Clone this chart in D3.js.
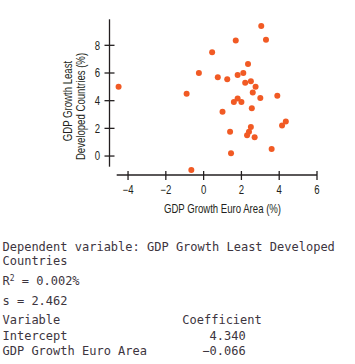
<!DOCTYPE html>
<html><head><meta charset="utf-8">
<script src="https://cdn.jsdelivr.net/npm/d3@7"></script>
<style>
body{margin:0;background:#fff;}
svg{display:block;}
</style></head>
<body>
<svg id="chart" width="355" height="364"></svg>
<script>
const euroGrowth = [-4.5,-0.9,-0.65,-0.25,0.45,0.75,1.25,1.0,1.4,1.45,1.7,1.8,1.6,1.8,2.0,2.1,2.2,2.35,2.5,2.75,2.6,3.0,2.55,2.5,2.4,2.3,2.7,3.05,3.3,3.9,3.6,4.15,4.35];
const ldcGrowth  = [5.0,4.5,-1.0,6.0,7.5,5.7,5.55,3.2,1.75,0.2,8.35,5.85,3.9,4.15,3.9,6.0,5.3,6.65,5.4,5.0,4.6,4.2,3.45,2.1,1.75,1.5,1.35,9.4,8.4,4.35,0.5,2.2,2.5];
const xTicks = [-4,-2,0,2,4,6];
const yTicks = [0,2,4,6,8];
const xTitle = "GDP Growth Euro Area (%)";
const yTitleLines = ["GDP Growth Least","Developed Countries (%)"];
const outputLines = [
  "Dependent variable: GDP Growth Least Developed",
  "Countries"
];
const rSquared = "0.002%";
const sValue = "2.462";
const tableHeader = ["Variable","Coefficient"];
const tableRows = [["Intercept","4.340"],["GDP Growth Euro Area","\u22120.066"]];

const svg = d3.select("#chart");
const axisColor = "#231f20";
const dotColor = "#f15a24";
const sans = "'Liberation Sans',Arial,sans-serif";
const mono = "'DejaVu Sans Mono','Liberation Mono',monospace";
const NARROW = 0.8;
const FS = 12;

const x = d3.scaleLinear().domain([-4.6, 6.0]).range([116.7, 317.0]);
const y = d3.scaleLinear().domain([-1.37, 9.88]).range([175, 19.3]);
const axisX = 109.5, axisY = 175;

// y axis
const gy = svg.append("g");
gy.append("line").attr("x1",axisX).attr("x2",axisX).attr("y1",y(9.88)).attr("y2",y(-0.77))
  .attr("stroke",axisColor).attr("stroke-width",1.3);
gy.selectAll("line.t").data(yTicks).join("line").attr("class","t")
  .attr("x1",axisX-5).attr("x2",axisX+5).attr("y1",d=>y(d)).attr("y2",d=>y(d))
  .attr("stroke",axisColor).attr("stroke-width",1.3);
gy.selectAll("text").data(yTicks).join("text")
  .attr("transform",d=>`translate(100,${y(d)}) scale(${NARROW},1)`)
  .attr("dy","0.36em").attr("text-anchor","end")
  .attr("font-family",sans).attr("font-size",FS).attr("fill",axisColor).text(d=>d);

// x axis
const gx = svg.append("g");
gx.append("line").attr("x1",x(-4.6)).attr("x2",x(6)).attr("y1",axisY).attr("y2",axisY)
  .attr("stroke",axisColor).attr("stroke-width",1.3);
gx.selectAll("line.t").data(xTicks).join("line").attr("class","t")
  .attr("x1",d=>x(d)).attr("x2",d=>x(d)).attr("y1",axisY-4).attr("y2",axisY+5)
  .attr("stroke",axisColor).attr("stroke-width",1.3);
gx.selectAll("text").data(xTicks).join("text")
  .attr("transform",d=>`translate(${x(d)},194.3) scale(${NARROW},1)`)
  .attr("text-anchor","middle")
  .attr("font-family",sans).attr("font-size",FS).attr("fill",axisColor)
  .text(d=>d<0?"\u2212"+Math.abs(d):d);

// titles
svg.append("text").attr("transform",`translate(222.5,212.5) scale(${NARROW},1)`).attr("text-anchor","middle")
  .attr("font-family",sans).attr("font-size",FS).attr("fill",axisColor).text(xTitle);
const yt = [[72,101],[85,106.5]];
yTitleLines.forEach((t,i)=>{
  svg.append("text").attr("transform",`translate(${yt[i][0]},${yt[i][1]}) rotate(-90) scale(${NARROW},1)`)
    .attr("text-anchor","middle").attr("font-family",sans).attr("font-size",FS)
    .attr("fill",axisColor).text(t);
});

// dots
svg.append("g").selectAll("circle").data(euroGrowth.map((v,i)=>[v,ldcGrowth[i]])).join("circle")
  .attr("cx",d=>x(d[0])).attr("cy",d=>y(d[1])).attr("r",3).attr("fill",dotColor);

// regression output
const txtColor = "#3d3540";
const tg = svg.append("g").attr("font-family",mono).attr("font-size",12).attr("fill",txtColor);
outputLines.forEach((t,i)=>{
  tg.append("text").attr("x",2.5).attr("y",[250.7,265.3][i]).attr("xml:space","preserve").text(t);
});
const r2 = tg.append("text").attr("x",2.5).attr("y",285);
r2.append("tspan").text("R");
r2.append("tspan").attr("dy",-4).attr("font-size",8).text("2");
r2.append("tspan").attr("dy",4).text(" = " + rSquared);
tg.append("text").attr("x",2.5).attr("y",305).text("s = " + sValue);
tg.append("text").attr("x",2.5).attr("y",324).text(tableHeader[0]);
tg.append("text").attr("x",182.3).attr("y",324).text(tableHeader[1]);
tableRows.forEach((r,i)=>{
  const yy = [340,355][i];
  tg.append("text").attr("x",2.5).attr("y",yy).text(r[0]);
  tg.append("text").attr("x",245.7).attr("y",yy).attr("text-anchor","end").text(r[1]);
});
</script>
</body></html>
